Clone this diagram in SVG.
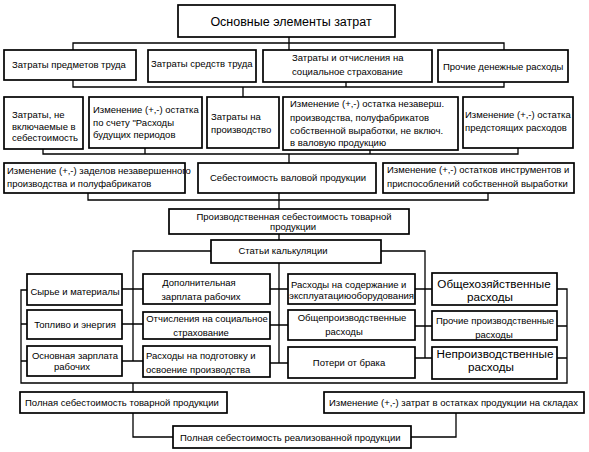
<svg xmlns="http://www.w3.org/2000/svg" width="589" height="452" viewBox="0 0 589 452">
<style>
rect{fill:#fff;stroke:#000;stroke-width:1.7}
text{font-family:"Liberation Sans",Arial,sans-serif;font-size:9.5px;fill:#000}
.c{text-anchor:middle}
.big{font-size:12.5px}
.mid{font-size:11.7px}
#connectors path{fill:none;stroke:#000;stroke-width:1.3}
</style>
<rect x="0" y="0" width="589" height="452" style="fill:#fff;stroke:none"/>
<g id="connectors">
<path d="M289 37V50M73 50V43H504V50"/>
<path d="M73 80V87H504V82M346 82V87M243 87V97"/>
<path d="M43 149V154H518V148M145 148V154M370 148V154M289 154V163"/>
<path d="M88 193V200H488V193M279 192V209M279 234V240"/>
<path d="M211 251H133V361M122 289H143M122 324H143M122 361H143"/>
<path d="M381 251H425V358M415 289H432M415 326H432M415 358H432"/>
<path d="M279 263V363M270 289H288M270 325H288M270 363H288"/>
<path d="M27 290H21V383H567V289H557M21 324H27M21 361H27M557 326H567M557 358H567"/>
<path d="M133 383V392M133 413V437H173M456 413V437H411"/>
</g>
<g id="n-top"><rect x="178" y="5" width="217" height="32"/><text class="c big" x="291" y="26">Основные элементы затрат</text></g>
<g id="n-r1-1"><rect x="4" y="50" width="132" height="30"/><text x="12" y="68">Затраты предметов труда</text></g>
<g id="n-r1-2"><rect x="148" y="50" width="108" height="32"/><text x="151" y="67">Затраты средств труда</text></g>
<g id="n-r1-3"><rect x="263" y="50" width="169" height="32"/><text x="292" y="61">Затраты и отчисления на</text><text x="292" y="75">социальное страхование</text></g>
<g id="n-r1-4"><rect x="438" y="50" width="130" height="32"/><text x="443" y="70">Прочие денежные расходы</text></g>
<g id="n-r2-1"><rect x="4" y="97" width="79" height="52"/><text x="12" y="118">Затраты, не</text><text x="12" y="130">включаемые в</text><text x="12" y="141">себестоимость</text></g>
<g id="n-r2-2"><rect x="89" y="97" width="113" height="51"/><text x="93" y="113">Изменение (+,-) остатка</text><text x="93" y="126">по счету "Расходы</text><text x="93" y="138">будущих периодов</text></g>
<g id="n-r2-3"><rect x="207" y="97" width="72" height="51"/><text x="211" y="120">Затраты на</text><text x="211" y="133">производство</text></g>
<g id="n-r2-4"><rect x="283" y="97" width="175" height="53"/><text x="290" y="107">Изменение (+,-) остатка незаверш.</text><text x="290" y="121">производства, полуфабрикатов</text><text x="290" y="134">собственной выработки, не включ.</text><text x="290" y="146">в валовую продукцию</text></g>
<g id="n-r2-5"><rect x="463" y="97" width="110" height="51"/><text x="465" y="118">Изменение (+,-) остатка</text><text x="465" y="131">предстоящих расходов</text></g>
<g id="n-r3-1"><rect x="4" y="163" width="181" height="30"/><text x="7" y="174">Изменение (+,-) заделов незавершенного</text><text x="7" y="187">производства и полуфабрикатов</text></g>
<g id="n-r3-2"><rect x="198" y="163" width="178" height="30"/><text class="c" x="288" y="181">Себестоимость валовой продукции</text></g>
<g id="n-r3-3"><rect x="383" y="163" width="191" height="30"/><text x="387" y="173">Изменение (+,-) остатков инструментов и</text><text x="387" y="187">приспособлений собственной выработки</text></g>
<g id="n-prod"><rect x="169" y="209" width="240" height="25"/><text class="c" x="294" y="220">Производственная себестоимость товарной</text><text class="c" x="293" y="230">продукции</text></g>
<g id="n-stat"><rect x="211" y="240" width="170" height="23"/><text class="c" x="283" y="254">Статьи калькуляции</text></g>
<g id="n-c1"><rect x="27" y="274" width="95" height="31"/><text class="c" x="75" y="295">Сырье и материалы</text></g>
<g id="n-c2"><rect x="27" y="310" width="95" height="29"/><text class="c" x="75" y="328">Топливо и энергия</text></g>
<g id="n-c3"><rect x="27" y="346" width="95" height="30"/><text class="c" x="75" y="359">Основная зарплата</text><text class="c" x="72" y="370">рабочих</text></g>
<g id="n-c4"><rect x="143" y="274" width="127" height="30"/><text class="c" x="199" y="286">Дополнительная</text><text class="c" x="201" y="300">зарплата рабочих</text></g>
<g id="n-c5"><rect x="143" y="312" width="127" height="27"/><text class="c" x="207" y="322">Отчисления на социальное</text><text class="c" x="201" y="336">страхование</text></g>
<g id="n-c6"><rect x="143" y="346" width="127" height="31"/><text x="146" y="359">Расходы на подготовку и</text><text x="146" y="373">освоение производства</text></g>
<g id="n-c7"><rect x="288" y="274" width="127" height="30"/><text x="291" y="288">Расходы на содержание и</text><text x="289" y="299" textLength="125" lengthAdjust="spacingAndGlyphs">эксплуатациюоборудования</text></g>
<g id="n-c8"><rect x="288" y="310" width="127" height="30"/><text class="c" x="352" y="321">Общепроизводственные</text><text class="c" x="344" y="335">расходы</text></g>
<g id="n-c9"><rect x="288" y="347" width="127" height="31"/><text class="c" x="349" y="366">Потери от брака</text></g>
<g id="n-c10"><rect x="432" y="273" width="125" height="32"/><text class="c mid" x="494" y="288">Общехозяйственные</text><text class="c mid" x="490" y="301">расходы</text></g>
<g id="n-c11"><rect x="432" y="311" width="125" height="29"/><text class="c" x="495" y="324">Прочие производственные</text><text class="c" x="494" y="338">расходы</text></g>
<g id="n-c12"><rect x="432" y="347" width="125" height="32"/><text class="c mid" x="495" y="358">Непроизводственные</text><text class="c mid" x="491" y="371">расходы</text></g>
<g id="n-b1"><rect x="20" y="392" width="207" height="21"/><text x="25" y="406">Полная себестоимость товарной продукции</text></g>
<g id="n-b2"><rect x="324" y="392" width="260" height="21"/><text x="329" y="406">Изменение (+,-) затрат в остатках продукции на складах</text></g>
<g id="n-b3"><rect x="173" y="426" width="238" height="22"/><text x="180" y="441">Полная себестоимость реализованной продукции</text></g>
</svg>
